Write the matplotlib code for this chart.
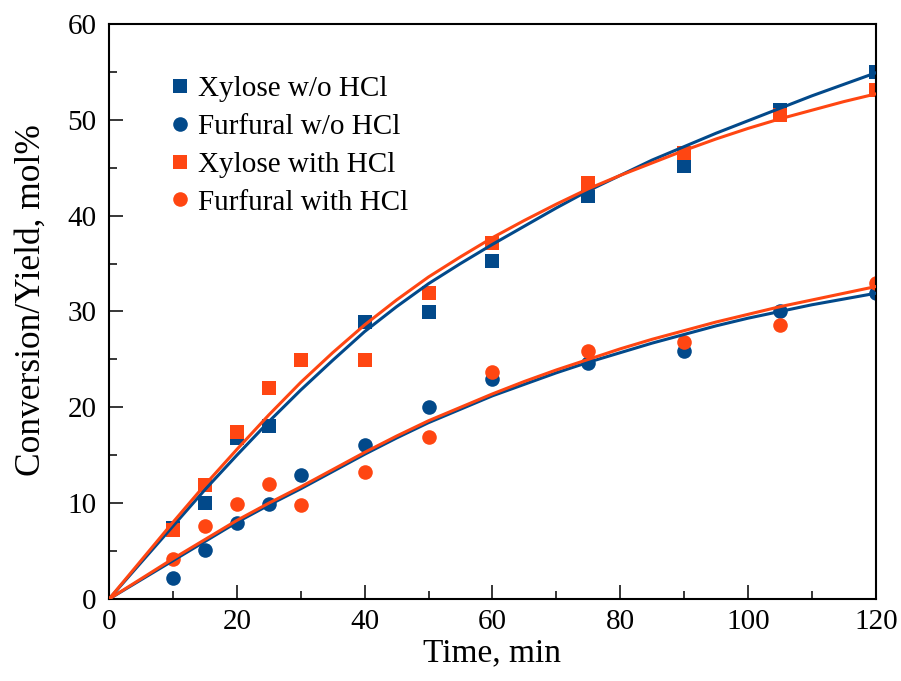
import matplotlib.pyplot as plt
import numpy as np

# measured points (min, mol%)
t = [10, 15, 20, 25, 30, 40, 50, 60, 75, 90, 105, 120]
xyl_no = [7.4, 10.0, 16.8, 18.0, 24.9, 28.9, 29.9, 35.3, 42.0, 45.2, 51.0, 55.0]
fur_no = [2.2, 5.1, 7.9, 9.9, 12.9, 16.1, 20.0, 23.0, 24.6, 25.9, 30.0, 31.9]
xyl_hcl = [7.2, 11.9, 17.4, 22.0, 24.9, 24.9, 31.9, 37.1, 43.4, 46.5, 50.5, 53.1]
fur_hcl = [4.2, 7.6, 9.9, 12.0, 9.8, 13.2, 16.9, 23.7, 25.9, 26.8, 28.6, 33.0]

# fitted model curves, every 5 min
t_fit = list(range(0, 121, 5))
xyl_no_fit = [0, 3.8, 7.6, 11.4, 15.0, 18.5, 21.8, 24.9, 27.9, 30.5, 32.9, 35.0, 37.0,
              38.9, 40.8, 42.6, 44.2, 45.8, 47.2, 48.6, 49.9, 51.2, 52.5, 53.7, 54.9]
xyl_hcl_fit = [0, 4.0, 8.0, 11.9, 15.6, 19.2, 22.6, 25.7, 28.6, 31.2, 33.6, 35.7, 37.7,
               39.5, 41.2, 42.8, 44.2, 45.5, 46.8, 48.0, 49.1, 50.1, 51.0, 51.9, 52.7]
fur_no_fit = [0, 2.0, 4.0, 6.0, 8.0, 9.8, 11.5, 13.3, 15.1, 16.8, 18.4, 19.8, 21.2,
              22.4, 23.6, 24.7, 25.7, 26.7, 27.6, 28.5, 29.3, 30.0, 30.7, 31.3, 31.9]
fur_hcl_fit = [0, 2.1, 4.2, 6.2, 8.2, 10.0, 11.7, 13.5, 15.3, 17.0, 18.6, 20.0, 21.4,
               22.7, 23.9, 25.0, 26.1, 27.1, 28.0, 28.9, 29.7, 30.5, 31.2, 31.9, 32.6]

blue = '#02498A'
orange = '#FF4612'

plt.rcParams['font.family'] = 'Liberation Serif'

fig = plt.figure(figsize=(9.01, 6.81), dpi=100)
ax = fig.add_axes([0.121, 0.1204, 0.851, 0.8444])

ax.plot(t, xyl_no, 's', color=blue, ms=10, mew=0, label='Xylose w/o HCl', zorder=2)
ax.plot(t, fur_no, 'o', color=blue, ms=10.5, mew=0, label='Furfural w/o HCl', zorder=2)
ax.plot(t, xyl_hcl, 's', color=orange, ms=10, mew=0, label='Xylose with HCl', zorder=2.1)
ax.plot(t, fur_hcl, 'o', color=orange, ms=10.5, mew=0, label='Furfural with HCl', zorder=2.1)

ax.plot(t_fit, xyl_no_fit, color=blue, lw=2.2, zorder=3)
ax.plot(t_fit, fur_no_fit, color=blue, lw=2.2, zorder=3)
ax.plot(t_fit, xyl_hcl_fit, color=orange, lw=2.2, zorder=3.1)
ax.plot(t_fit, fur_hcl_fit, color=orange, lw=2.2, zorder=3.1)

ax.set_xlim(0, 120)
ax.set_ylim(0, 60)
ax.set_xticks(np.arange(0, 121, 20))
ax.set_xticks(np.arange(10, 120, 20), minor=True)
ax.set_yticks(np.arange(0, 61, 10))
ax.set_yticks(np.arange(5, 60, 10), minor=True)
ax.tick_params(which='major', direction='in', length=10, width=1.1, labelsize=21, pad=7)
ax.tick_params(which='minor', direction='in', length=5.8, width=1.1)
ax.tick_params(axis='y', which='major', pad=9)
for s in ax.spines.values():
    s.set_linewidth(1.5)

ax.set_xlabel('Time, min', fontsize=24, labelpad=2)
ax.set_ylabel('Conversion/Yield, mol%', fontsize=25.5)
ax.yaxis.set_label_coords(-0.08, 0.52)

ax.legend(loc='upper left', bbox_to_anchor=(0.0615, 0.93), frameon=False, fontsize=21,
          handlelength=0.8, handletextpad=0.25, labelspacing=0.39, borderaxespad=0)

plt.savefig('out.png', dpi=100)
